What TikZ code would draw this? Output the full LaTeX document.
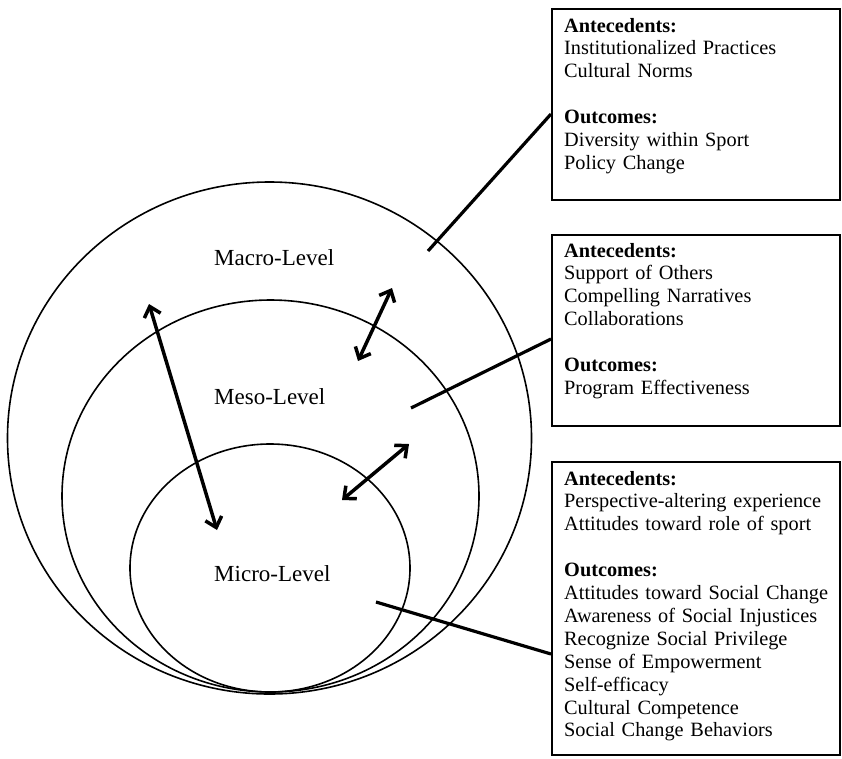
\documentclass[tikz,border=0pt]{standalone}
\usepackage{fontspec}
\setmainfont{Liberation Serif}
\usetikzlibrary{shapes.geometric,arrows.meta}
\begin{document}
\begin{tikzpicture}[x=1pt,y=-1pt,
  ring/.style={draw, ellipse, line width=1.6pt, inner sep=0pt},
  frame/.style={draw, rectangle, line width=1.7pt, inner sep=0pt, anchor=north west},
  btext/.style={anchor=base west, inner sep=0pt, align=left, text width=270pt,
    font=\fontsize{20.3pt}{22.9pt}\selectfont},
  lvl/.style={anchor=base west, inner sep=0pt, font=\fontsize{23pt}{27pt}\selectfont},
  link/.style={line width=3.2pt},
  dbl/.style={line width=3.5pt, {Straight Barb[length=9.5pt,width=17pt]}-{Straight Barb[length=9.5pt,width=17pt]}}
]
\useasboundingbox[fill=white] (0,0) rectangle (842,758);

% circles
\node[ring, minimum width=524pt, minimum height=512pt] (macro) at (269.5,438) {};
\node[ring, minimum width=417pt, minimum height=392pt] (meso) at (270.5,496) {};
\node[ring, minimum width=280pt, minimum height=248pt] (micro) at (270,568) {};

% level labels
\node[lvl] (lmacro) at (214,265) {Macro-Level};
\node[lvl] (lmeso) at (214,404) {Meso-Level};
\node[lvl] (lmicro) at (214,581) {Micro-Level};

% boxes
\node[frame, minimum width=288pt, minimum height=191pt] (b1) at (551,8) {};
\node[frame, minimum width=288pt, minimum height=191pt] (b2) at (551,234) {};
\node[frame, minimum width=288pt, minimum height=293pt] (b3) at (551,461) {};

\node[btext] (t1) at (564,32) {\textbf{Antecedents:}\\
Institutionalized Practices\\
Cultural Norms\\[22.9pt]
\textbf{Outcomes:}\\
Diversity within Sport\\
Policy Change};

\node[btext] (t2) at (564,257) {\textbf{Antecedents:}\\
Support of Others\\
Compelling Narratives\\
Collaborations\\[22.9pt]
\textbf{Outcomes:}\\
Program Effectiveness};

\node[btext] (t3) at (564,485) {\textbf{Antecedents:}\\
Perspective-altering experience\\
Attitudes toward role of sport\\[22.9pt]
\textbf{Outcomes:}\\
Attitudes toward Social Change\\
Awareness of Social Injustices\\
Recognize Social Privilege\\
Sense of Empowerment\\
Self-efficacy\\
Cultural Competence\\
Social Change Behaviors};

% connector end points
\coordinate (c1) at (428,251);
\coordinate (e1) at (551,114);
\coordinate (c2) at (411,408);
\coordinate (e2) at (551,339);
\coordinate (c3) at (376,602);
\coordinate (e3) at (551,654);

\draw[link] (c1) -- (e1);
\draw[link] (c2) -- (e2);
\draw[link] (c3) -- (e3);

% arrows
\coordinate (p1) at (149,304);
\coordinate (q1) at (217,530);
\coordinate (p2) at (392,288);
\coordinate (q2) at (358,361);
\coordinate (p3) at (409,444);
\coordinate (q3) at (342,500);

\draw[dbl] (p1) -- (q1);
\draw[dbl] (p2) -- (q2);
\draw[dbl] (p3) -- (q3);
\end{tikzpicture}
\end{document}
